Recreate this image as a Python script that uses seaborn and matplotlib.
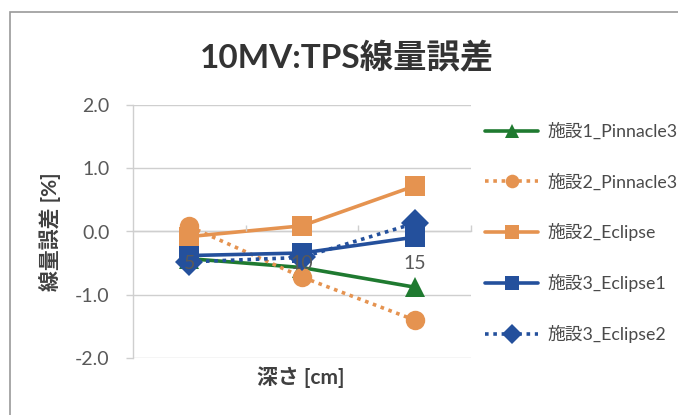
import matplotlib
matplotlib.use("Agg")
import matplotlib.pyplot as plt
from matplotlib.patches import Rectangle
from matplotlib.ticker import FixedLocator, FormatStrFormatter
import pandas as pd
import seaborn as sns

# depth categories [cm]
depths = [5, 10, 15]

# dose error [%] per facility / planning system
fac1_pinnacle3 = [-0.43, -0.57, -0.88]
fac2_pinnacle3 = [0.08, -0.72, -1.40]
fac2_eclipse = [-0.08, 0.09, 0.72]
fac3_eclipse1 = [-0.38, -0.34, -0.09]
fac3_eclipse2 = [-0.48, -0.41, 0.13]

series_names = ["施設1_Pinnacle3", "施設2_Pinnacle3", "施設2_Eclipse",
                "施設3_Eclipse1", "施設3_Eclipse2"]
series_values = [fac1_pinnacle3, fac2_pinnacle3, fac2_eclipse,
                 fac3_eclipse1, fac3_eclipse2]

title_text = "10MV:TPS線量誤差"
xlabel_text = "深さ [cm]"
ylabel_text = "線量誤差 [%]"

rows = []
for name, vals in zip(series_names, series_values):
    for d, v in zip(depths, vals):
        rows.append({"depth": d, "error": v, "series": name})
df = pd.DataFrame(rows)

green = "#1f7a30"
orange = "#e59350"
blue = "#24509c"
palette = dict(zip(series_names, [green, orange, orange, blue, blue]))
markers = dict(zip(series_names, ["^", "o", "s", "s", "D"]))
dashes = dict(zip(series_names, ["", (1.0, 1.3), "", "", (1.0, 1.3)]))

sns.set_theme(style="white")
plt.rcParams["font.family"] = ["Lato", "Noto Sans CJK JP", "DejaVu Sans"]
plt.rcParams["axes.unicode_minus"] = False

W, H = 678, 415
fig = plt.figure(figsize=(W / 100, H / 100), dpi=100)
ax = fig.add_axes([133 / W, 57 / H, (471 - 133) / W, (358 - 105) / H])
ax.set_axisbelow(True)

sns.lineplot(data=df, x="depth", y="error", hue="series", style="series",
             hue_order=series_names, style_order=series_names,
             palette=palette, markers=markers, dashes=dashes,
             linewidth=2.6, markersize=14, markeredgewidth=0,
             ax=ax, legend=True)

grid_c = "#cfcfcf"
ax.set_xlim(2.5, 17.5)
ax.set_ylim(-2.0, 2.0)
ax.set_yticks([-2, -1, 0, 1, 2])
ax.yaxis.set_major_formatter(FormatStrFormatter("%.1f"))
ax.grid(axis="y", color=grid_c, linewidth=1.0)
ax.grid(axis="x", visible=False)

# category axis sits on the zero line, its labels drawn over the series
for s in ["top", "right"]:
    ax.spines[s].set_visible(False)
ax.spines["bottom"].set_position(("data", 0))
ax.spines["bottom"].set_color(grid_c)
ax.spines["bottom"].set_linewidth(1.0)
ax.spines["bottom"].set_zorder(0.8)
ax.spines["left"].set_color(grid_c)
ax.spines["left"].set_linewidth(1.0)
ax.xaxis.set_zorder(5)

ax.set_xticks(depths)
ax.set_xticklabels([str(d) for d in depths])
ax.xaxis.set_minor_locator(FixedLocator([7.5, 12.5, 17.5]))
ax.tick_params(axis="x", which="major", length=0, pad=17,
               labelsize=14, labelcolor="#595959")
ax.tick_params(axis="x", which="minor", length=4, color=grid_c,
               direction="in", bottom=True)
ax.tick_params(axis="y", length=5, color=grid_c, width=1, left=True,
               labelsize=14, labelcolor="#595959", pad=12)

ax.set_xlabel("")
ax.set_ylabel("")
fig.text(301 / W, 1 - 377 / H, xlabel_text, ha="center", va="center",
         fontsize=15, fontweight="bold", color="#404040")
fig.text(50 / W, 1 - 232 / H, ylabel_text, ha="center", va="center",
         rotation=90, fontsize=15, fontweight="bold", color="#404040")
fig.text(347 / W, 1 - 57 / H, title_text, ha="center", va="center",
         fontsize=24, fontweight="bold", color="#333333")

handles, labels = ax.get_legend_handles_labels()
ax.legend(handles, labels, loc="upper left",
          bbox_to_anchor=(485 / W, 1 - 123 / H), bbox_transform=fig.transFigure,
          frameon=False, fontsize=12.8, labelcolor="#4a4a4a",
          handlelength=3.0, handletextpad=0.5, labelspacing=1.85,
          borderaxespad=0, borderpad=0, markerscale=0.7)

fig.patches.append(Rectangle((10 / W, -0.1), 1.5, 1 - 12 / H + 0.1,
                             transform=fig.transFigure, fill=False,
                             edgecolor="#9a9a9a", linewidth=1.2))

fig.savefig("out.png", dpi=100, facecolor="white")
